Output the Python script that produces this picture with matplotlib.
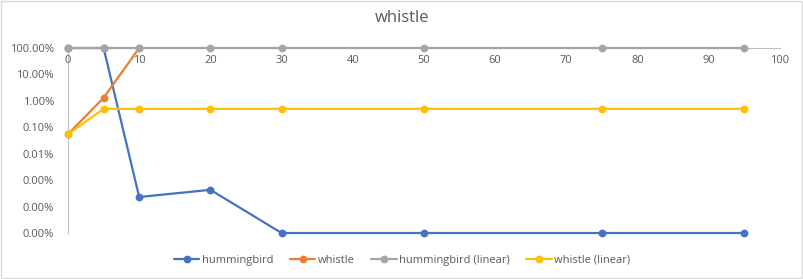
import matplotlib
matplotlib.use("Agg")
import matplotlib.pyplot as plt
from matplotlib.ticker import FixedLocator, FixedFormatter

nan = float('nan')
x_vals = [0, 5, 10, 20, 30, 50, 75, 95]
hummingbird = [1.0, 1.0, 2.3e-6, 4.3e-6, 1e-7, 1e-7, 1e-7, 1e-7]
whistle = [5.5e-4, 0.013, 1.0, nan, nan, nan, nan, nan]
hummingbird_linear = [1.0, 1.0, 1.0, 1.0, 1.0, 1.0, 1.0, 1.0]
whistle_linear = [5.5e-4, 0.005, 0.005, 0.005, 0.005, 0.005, 0.005, 0.005]

series = [
    ("hummingbird", hummingbird, "#4472C4"),
    ("whistle", whistle, "#ED7D31"),
    ("hummingbird (linear)", hummingbird_linear, "#A5A5A5"),
    ("whistle (linear)", whistle_linear, "#FFC000"),
]

y_ticks = [1, 1e-1, 1e-2, 1e-3, 1e-4, 1e-5, 1e-6, 1e-7]
y_labels = ["100.00%", "10.00%", "1.00%", "0.10%", "0.01%", "0.00%", "0.00%", "0.00%"]
x_ticks = [0, 10, 20, 30, 40, 50, 60, 70, 80, 90, 100]

plt.rcParams['font.family'] = ['Open Sans', 'DejaVu Sans']

fig = plt.figure(figsize=(8.04, 2.79), dpi=100)
ax = fig.add_axes([68/804, (279-233)/279, 712/804, 185/279])
ax.set_yscale('log')
ax.set_xlim(0, 100)
ax.set_ylim(1e-7, 1)

for name, vals, col in series:
    ax.plot(x_vals, vals, color=col, lw=1.6, marker='o', ms=4.6, label=name,
            clip_on=False, solid_capstyle='round')

for s in ['top', 'right']:
    ax.spines[s].set_visible(False)
ax.spines['bottom'].set_position(('data', 1))
ax.spines['bottom'].set_color('#BFBFBF')
ax.spines['left'].set_color('#BFBFBF')
ax.spines['bottom'].set_zorder(0)
ax.spines['left'].set_zorder(0)

ax.yaxis.set_major_locator(FixedLocator(y_ticks))
ax.yaxis.set_major_formatter(FixedFormatter(y_labels))
ax.yaxis.set_minor_locator(FixedLocator([]))
ax.set_xticks(x_ticks)
ax.tick_params(axis='both', length=0, labelsize=8, labelcolor='#595959')
ax.tick_params(axis='y', pad=10)
ax.tick_params(axis='x', pad=5)

fig.text(0.5, 0.935, "whistle", ha='center', va='center', fontsize=12, color='#595959')

leg = fig.legend(loc='center', bbox_to_anchor=(0.5, 0.068), ncol=4, frameon=False,
                 fontsize=8, labelcolor='#595959', handlelength=2.3, columnspacing=1.5,
                 handletextpad=0.2)

border = plt.Rectangle((0.001, 0.002), 0.997, 0.995, transform=fig.transFigure,
                       fill=False, edgecolor='#D9D9D9', lw=1)
fig.patches.append(border)

fig.savefig("out.png", dpi=100)
